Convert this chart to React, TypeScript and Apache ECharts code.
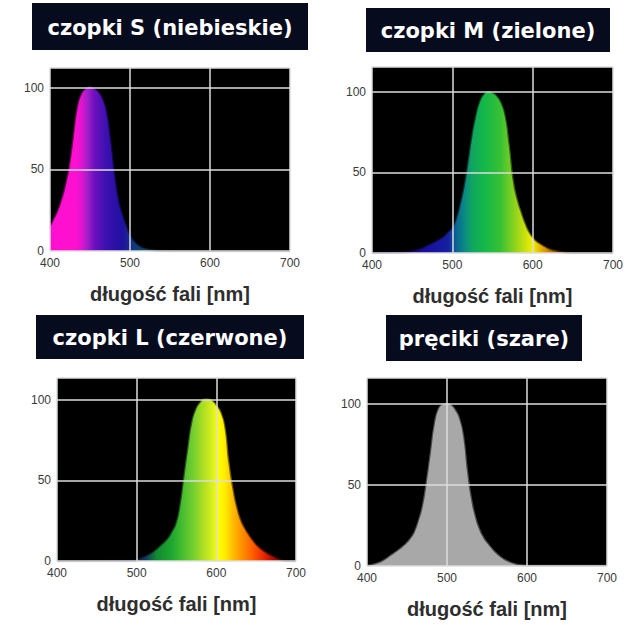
import React, { useEffect, useRef } from "react";
import * as echarts from "echarts";

// ---- data ----
const titles = ["czopki S (niebieskie)", "czopki M (zielone)", "czopki L (czerwone)", "pręciki (szare)"];
const axisName = "długość fali [nm]";
const xTicks = [400, 500, 600, 700];

const sWl = [400, 405, 410, 415, 420, 425, 430, 435, 440, 445, 450, 455, 460, 465, 470, 475, 480, 485, 490, 495, 500, 505, 510, 515, 520, 530, 540, 550, 700];
const sVal = [14, 19, 24, 31, 40, 52, 70, 88, 96, 99, 100, 99, 97, 93, 85, 68, 47, 31, 22, 15, 9, 5.5, 3.2, 1.8, 1, 0.3, 0, 0, 0];

const mWl = [400, 440, 450, 460, 470, 480, 490, 495, 500, 505, 510, 515, 520, 525, 530, 535, 540, 545, 550, 555, 560, 565, 570, 575, 580, 585, 590, 595, 600, 605, 610, 615, 620, 630, 640, 650, 700];
const mVal = [0, 0.3, 1, 2.2, 4.5, 7, 10, 12.5, 15, 20, 29, 40, 55, 72, 85, 94, 98.5, 100, 99, 97, 93, 85, 67, 45, 33, 25, 18, 12.5, 9, 6.5, 5, 3.5, 2.2, 1, 0.3, 0, 0];

const lWl = [400, 495, 500, 510, 520, 530, 540, 545, 550, 555, 560, 565, 570, 575, 580, 585, 590, 595, 600, 605, 610, 615, 620, 625, 630, 635, 640, 645, 650, 660, 670, 680, 690, 700];
const lVal = [0, 0, 0.5, 2.5, 5, 9, 14, 18, 23, 34, 52, 70, 86, 94, 98, 100, 100, 99, 96, 92, 83, 61, 45, 33, 25, 20, 16, 12.5, 9.5, 5.5, 2.8, 0.8, 0, 0];

const rWl = [400, 405, 410, 415, 420, 425, 430, 435, 440, 445, 450, 455, 460, 465, 470, 475, 480, 485, 490, 495, 500, 505, 510, 515, 520, 525, 530, 535, 540, 545, 550, 555, 560, 565, 570, 575, 580, 585, 590, 600, 700];
const rVal = [0, 0.4, 1, 1.8, 3, 4.5, 6.3, 8, 9.8, 11.8, 14, 17, 21, 28, 37, 52, 70, 88, 97, 99.5, 100, 99, 96, 91, 80, 58, 41, 30, 22.5, 17.5, 14, 11, 8.2, 6, 4.2, 2.8, 1.8, 1, 0.5, 0, 0];

// colour stops: [wavelength, colour]
const sColors: [number, string][] = [[400, "#ff10d0"], [432, "#ff10d0"], [440, "#e014d0"], [447, "#a020c8"], [455, "#7010c0"], [470, "#3c10b0"], [490, "#2010a0"], [505, "#10387e"], [520, "#0a4a60"], [540, "#052a30"], [560, "#000000"], [700, "#000000"]];
const mColors: [number, string][] = [[400, "#100030"], [440, "#200060"], [470, "#1810a0"], [495, "#1520a0"], [505, "#0a6490"], [515, "#0a8a86"], [525, "#10a660"], [540, "#14b848"], [560, "#38c034"], [575, "#80d020"], [590, "#c8e010"], [600, "#f0f000"], [612, "#e0a800"], [630, "#a05000"], [650, "#000000"], [700, "#000000"]];
const lColors: [number, string][] = [[400, "#000000"], [495, "#081838"], [510, "#103060"], [525, "#108a30"], [545, "#20a830"], [560, "#50c030"], [572, "#78d030"], [585, "#b4e020"], [595, "#d8f020"], [602, "#ffff00"], [610, "#fff000"], [620, "#ffc000"], [632, "#ff9000"], [645, "#ff6000"], [657, "#f03000"], [668, "#c01000"], [685, "#400000"], [700, "#000000"]];
const rColors: [number, string][] = [[400, "#a8a8a8"], [700, "#a8a8a8"]];

// ---- layout ----
const grids = [
  { left: 50, top: 68, width: 240, height: 183, ymax: 112 },
  { left: 372, top: 67, width: 241, height: 186, ymax: 115.5 },
  { left: 57, top: 378, width: 239, height: 183, ymax: 113.5 },
  { left: 367, top: 378, width: 240, height: 188, ymax: 116 },
];
const titleBoxes = [
  { x: 32, y: 3, w: 276, h: 47 },
  { x: 366, y: 8, w: 244, h: 44 },
  { x: 36, y: 315, w: 268, h: 44 },
  { x: 386, y: 315, w: 196, h: 46 },
];

const seriesWl = [sWl, mWl, lWl, rWl];
const seriesVal = [sVal, mVal, lVal, rVal];
const seriesColors = [sColors, mColors, lColors, rColors];

function gradient(stops: [number, string][]) {
  return new echarts.graphic.LinearGradient(
    0, 0, 1, 0,
    stops.map(([wl, c]) => ({ offset: (wl - 400) / 300, color: c }))
  );
}

export default function App() {
  const ref = useRef<HTMLDivElement>(null);
  useEffect(() => {
    if (!ref.current) return;
    const chart = echarts.init(ref.current, null, { renderer: "svg" });
    const gridLine = { show: true, lineStyle: { color: "#dcdcdc", width: 1.5 } };
    const option: any = {
      animation: false,
      backgroundColor: "#ffffff",
      grid: grids.map((g) => ({
        left: g.left, top: g.top, width: g.width, height: g.height,
        show: true, backgroundColor: "#000000", borderWidth: 0,
      })),
      xAxis: grids.map((g, i) => ({
        gridIndex: i, type: "value", min: xTicks[0], max: xTicks[xTicks.length - 1], interval: 100,
        z: 5,
        axisLine: { show: false }, axisTick: { show: false },
        axisLabel: { color: "#3a3a3a", fontSize: 12, fontFamily: "Liberation Sans", margin: 6 },
        splitLine: gridLine,
        name: axisName, nameLocation: "middle", nameGap: 33,
        nameTextStyle: { color: "#2e2e2e", fontSize: 20, fontWeight: "bold", fontFamily: "Liberation Sans" },
      })),
      yAxis: grids.map((g, i) => ({
        gridIndex: i, type: "value", min: 0, max: g.ymax, interval: 50,
        z: 5,
        axisLine: { show: false }, axisTick: { show: false },
        axisLabel: {
          color: "#3a3a3a", fontSize: 12, fontFamily: "Liberation Sans", margin: 6,
          showMaxLabel: false,
          formatter: (v: number) => (v % 50 === 0 ? String(v) : ""),
        },
        splitLine: gridLine,
      })),
      series: seriesWl.map((wl, i) => {
        const grad = gradient(seriesColors[i]);
        return {
          type: "line", xAxisIndex: i, yAxisIndex: i, z: 2,
          data: wl.map((w, k) => [w, seriesVal[i][k]]),
          smooth: 0.5, showSymbol: false, symbol: "none",
          lineStyle: { width: 2.5, color: grad, opacity: 0.45 },
          areaStyle: { color: grad, opacity: 1 },
          silent: true,
        };
      }),
      graphic: titleBoxes.flatMap((b, i) => [
        { type: "rect", shape: { x: b.x, y: b.y, width: b.w, height: b.h }, style: { fill: "#070b1e" }, z: 10 },
        {
          type: "text", x: b.x + b.w / 2, y: b.y + b.h / 2 + 1, z: 11,
          style: {
            text: titles[i], fill: "#ffffff", align: "center", verticalAlign: "middle",
            font: "bold 21px 'DejaVu Sans'",
          },
        },
      ]),
    };
    chart.setOption(option);
    return () => chart.dispose();
  }, []);
  return (
    <div
      ref={ref}
      style={{ position: "absolute", left: 0, top: 0, width: 631, height: 625, background: "#fff" }}
    />
  );
}
